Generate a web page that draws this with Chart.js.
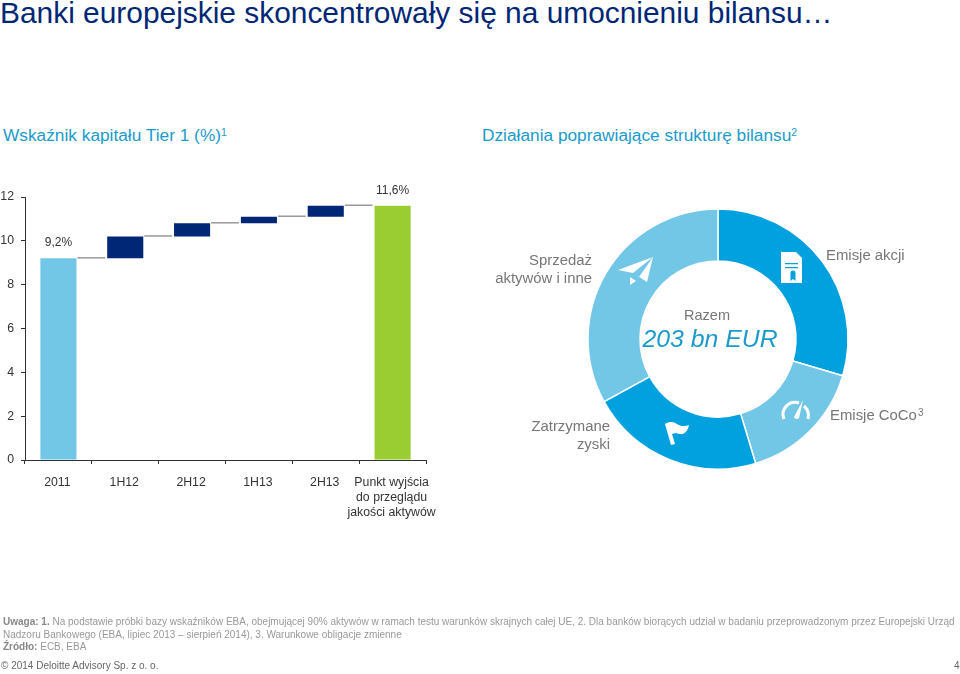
<!DOCTYPE html>
<html lang="pl">
<head>
<meta charset="utf-8">
<title>Banki europejskie</title>
<script src="https://cdn.jsdelivr.net/npm/chart.js@4"></script>
<style>
  html, body { margin: 0; padding: 0; background: #fff; }
  body { position: relative; width: 960px; height: 674px; overflow: hidden; font-family: "Liberation Sans", Arial, sans-serif; }
  canvas { position: absolute; }
  .t { position: absolute; white-space: nowrap; line-height: 1; }
  .main { left: 0; top: -2px; font-size: 29.9px; color: #002776; }
  .head { font-size: 17.3px; color: #1b9bcb; top: 127px; }
  .head sup { font-size: 10.5px; line-height: 0; vertical-align: 5px; }
  .lab { font-size: 14.9px; color: #777; line-height: 18px; }
  .lab sup { font-size: 10px; line-height: 0; vertical-align: 4px; margin-left: 1px; }
  .note { font-size: 10px; color: #999; }
  .note b { color: #888; }
  .foot { font-size: 10px; color: #666; }
  #icons { position: absolute; left: 0; top: 0; }
</style>
</head>
<body>
<div class="t main">Banki europejskie skoncentrowały się na umocnieniu bilansu…</div>
<div class="t head" style="left:3px">Wskaźnik kapitału Tier 1 (%)<sup>1</sup></div>
<div class="t head" style="left:482px">Działania poprawiające strukturę bilansu<sup>2</sup></div>

<canvas id="bars" width="450" height="370" style="left:0;top:170px"></canvas>
<canvas id="donut" width="280" height="280" style="left:578px;top:199px"></canvas>

<svg id="icons" width="960" height="674" viewBox="0 0 960 674">
  <path fill="#fff" d="M781 252h15l6 6v25h-21z"/>
  <path fill="#00a1de" d="M785 263h13v1.2h-13zM785 267h13v1.2h-13zM790.5 273a2.5 2.5 0 1 1 5 0v8l-2.5-2-2.5 2z"/>
  <path fill="#fff" d="M653 257L618 270l15 3 14 9zM633 273l20-16-14 20zM630 277l6 4-6 4z"/>
  <path fill="none" stroke="#fff" stroke-width="3" d="M784 419a12 12 0 0 1 15-16M804 406a13 13 0 0 1 4 13"/>
  <path fill="#fff" d="M803 400l-4 18a3 3 0 0 1-5-1z"/>
  <path fill="#fff" d="M665 424c5-3 9-2 12 0s7 3 12 1c-1 6-5 10-9 9s-6-1-8 0l3 10-4 1z"/>
</svg>

<div class="t lab" style="left:482px;top:251px;width:110px;text-align:right">Sprzedaż<br>aktywów i inne</div>
<div class="t lab" style="left:826px;top:246px">Emisje akcji</div>
<div class="t lab" style="left:830px;top:406px">Emisje CoCo<sup>3</sup></div>
<div class="t lab" style="left:510px;top:417px;width:100px;text-align:right">Zatrzymane<br>zyski</div>
<div class="t lab" style="left:657px;top:306px;width:100px;text-align:center;font-size:14.5px">Razem</div>
<div class="t" style="left:630px;top:327px;width:160px;text-align:center;font-size:24.8px;font-style:italic;color:#1b9bcb">203 bn EUR</div>

<div class="t note" style="left:3px;top:617px"><b>Uwaga: 1.</b> Na podstawie próbki bazy wskaźników EBA, obejmującej 90% aktywów w ramach testu warunków skrajnych całej UE, 2. Dla banków biorących udział w badaniu przeprowadzonym przez Europejski Urząd</div>
<div class="t note" style="left:3px;top:630px">Nadzoru Bankowego (EBA, lipiec 2013 – sierpień 2014), 3. Warunkowe obligacje zmienne</div>
<div class="t note" style="left:3px;top:642px"><b>Źródło:</b> ECB, EBA</div>
<div class="t foot" style="left:1px;top:661px">© 2014 Deloitte Advisory Sp. z o. o.</div>
<div class="t foot" style="left:954px;top:661px">4</div>

<script>
const categories = ['2011', '1H12', '2H12', '1H13', '2H13', ['Punkt wyjścia', 'do przeglądu', 'jakości aktywów']];
const barLow = [0, 9.2, 10.2, 10.8, 11.1, 0];
const barHigh = [9.2, 10.2, 10.8, 11.1, 11.6, 11.6];
const barColors = ['#72c7e7', '#002776', '#002776', '#002776', '#002776', '#9acd32'];
const valueLabels = ['9,2%', '', '', '', '', '11,6%'];

const sliceNames = ['Emisje akcji', 'Emisje CoCo', 'Zatrzymane zyski', 'Sprzedaż aktywów i inne'];
const sliceValues = [60, 32, 44, 67];
const sliceColors = ['#00a1de', '#72c7e7', '#00a1de', '#72c7e7'];

// grey connectors between the bars and the two value labels
const waterfallExtras = {
  id: 'waterfallExtras',
  afterDatasetsDraw(chart) {
    const {ctx, scales: {y}} = chart;
    const bars = chart.getDatasetMeta(0).data;
    ctx.save();
    ctx.strokeStyle = '#999';
    ctx.lineWidth = 1.5;
    for (let i = 0; i < bars.length - 1; i++) {
      const py = y.getPixelForValue(barHigh[i]) - 0.5;
      ctx.beginPath();
      ctx.moveTo(bars[i].x + bars[i].width / 2 + 1, py);
      ctx.lineTo(bars[i + 1].x - bars[i + 1].width / 2 - 2, py);
      ctx.stroke();
    }
    ctx.fillStyle = '#333';
    ctx.font = '12px "Liberation Sans"';
    ctx.textAlign = 'center';
    ctx.textBaseline = 'middle';
    bars.forEach((bar, i) => {
      if (valueLabels[i]) ctx.fillText(valueLabels[i], bar.x, y.getPixelForValue(barHigh[i]) - 15.5);
    });
    ctx.restore();
  },
};

new Chart('bars', {
  type: 'bar',
  data: {
    labels: categories,
    datasets: [{
      data: barLow.map((low, i) => [low, barHigh[i]]),
      backgroundColor: barColors,
      categoryPercentage: 1,
      barPercentage: 0.54,
    }],
  },
  options: {
    responsive: false,
    animation: false,
    layout: {padding: {top: 27, right: 24, bottom: 0, left: 0}},
    plugins: {legend: {display: false}, tooltip: {enabled: false}},
    scales: {
      x: {
        afterFit(scale) { scale.height = 80; },
        border: {color: '#333'},
        grid: {drawOnChartArea: false, color: '#333', tickLength: 4, offset: true},
        ticks: {
          color: '#333', padding: 11, labelOffset: -1, maxRotation: 0, autoSkip: false,
          font: {family: 'Liberation Sans', size: 12.3, lineHeight: 1.22},
        },
      },
      y: {
        min: 0,
        max: 12,
        afterFit(scale) { scale.width = 25; },
        border: {color: '#333'},
        grid: {drawOnChartArea: false, color: '#333', tickLength: 4},
        ticks: {stepSize: 2, color: '#333', padding: 7, font: {family: 'Liberation Sans', size: 12.3}},
      },
    },
  },
  plugins: [waterfallExtras],
});

new Chart('donut', {
  type: 'doughnut',
  data: {
    labels: sliceNames,
    datasets: [{
      data: sliceValues,
      backgroundColor: sliceColors,
      borderColor: '#fff',
      borderWidth: 1.5,
    }],
  },
  options: {
    responsive: false,
    animation: false,
    radius: 130,
    cutout: '60%',
    plugins: {legend: {display: false}, tooltip: {enabled: false}},
  },
});
</script>
</body>
</html>
